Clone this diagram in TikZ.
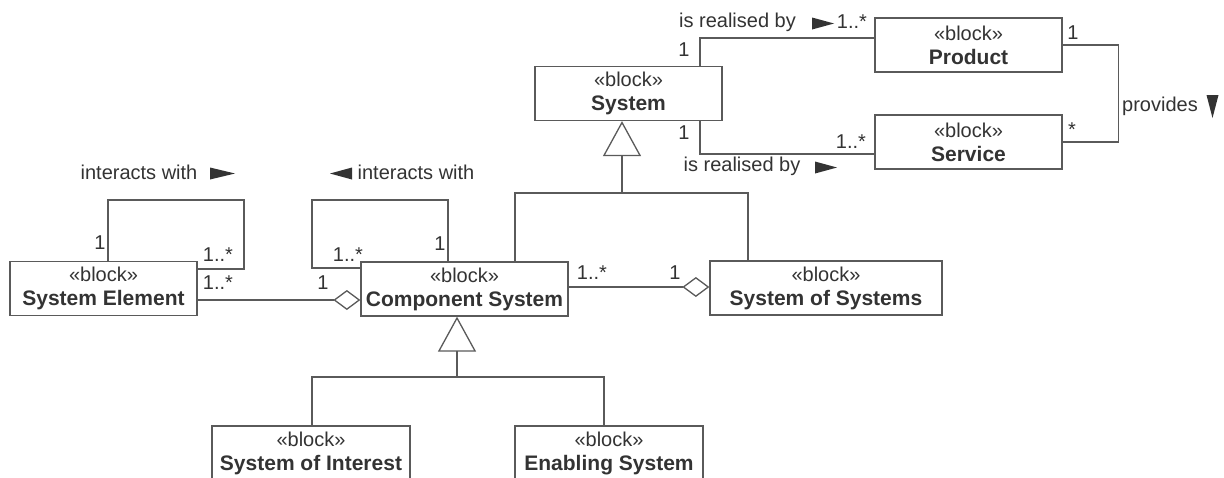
\documentclass[tikz,border=0pt]{standalone}
\usepackage{fontspec}
\setmainfont{Liberation Sans}
\usetikzlibrary{arrows.meta,calc}
\definecolor{ink}{HTML}{333333}
\definecolor{edge}{HTML}{5A5A5A}
\newcommand{\blockname}[1]{{\fontsize{21}{24}\selectfont\bfseries #1}}
\begin{document}
\begin{tikzpicture}[x=1pt,y=-1pt,
  blockbox/.style={draw=edge, line width=1.3pt, fill=white, text=ink, align=center,
    inner sep=0pt, minimum height=54pt, font=\fontsize{20}{24}\selectfont},
  conn/.style={draw=edge, line width=1.3pt},
  lbl/.style={text=ink, inner sep=0pt, font=\fontsize{20}{24}\selectfont},
  gen/.style={-{Triangle[open,length=35pt,width=38pt]}},
  agg/.style={-{Diamond[open,length=27pt,width=20pt]}},
  dirmark/.style={fill=ink}]
\useasboundingbox (0,0) rectangle (1224,477);
\clip (0,0) rectangle (1224,477);
\fill[white] (0,0) rectangle (1224,477);

% blocks
\node[blockbox, minimum width=187pt] (sys)  at (628.5,93.5) {«block»\\\blockname{System}};
\node[blockbox, minimum width=187pt] (prod) at (968.5,45)   {«block»\\\blockname{Product}};
\node[blockbox, minimum width=187pt] (serv) at (968.5,142)  {«block»\\\blockname{Service}};
\node[blockbox, minimum width=187pt] (se)   at (103.5,288.5) {«block»\\\blockname{System Element}};
\node[blockbox, minimum width=207pt] (cs)   at (464.5,289)  {«block»\\\blockname{Component System}};
\node[blockbox, minimum width=232pt] (sos)  at (826,288)    {«block»\\\blockname{System of Systems}};
\node[blockbox, minimum width=198pt] (soi)  at (311,453)    {«block»\\\blockname{System of Interest}};
\node[blockbox, minimum width=188pt] (es)   at (609,453)    {«block»\\\blockname{Enabling System}};

% System is realised by Product / Service
\draw[conn] ($(sys.north)+(71.5,0)$) |- ($(prod.west)+(0,-7)$);
\draw[conn] ($(sys.south)+(71.5,0)$) |- ($(serv.west)+(0,12)$);
% Product provides Service
\draw[conn] (prod.east) -- ++(56,0) |- (serv.east);

% generalisation of System
\coordinate (gs) at (622,193);
\coordinate (ga) at (515,193);
\coordinate (gb) at (748,193);
\draw[conn,gen] (gs) -- (gs |- sys.south);
\draw[conn] (cs.north -| ga) -- (ga) -- (gb) -- (sos.north -| gb);

% self associations
\coordinate (seL) at (108,200);
\coordinate (seR) at (244,269);
\draw[conn] (se.north -| seL) -- (seL) -| (seR) -- (se.east |- seR);
\coordinate (csL) at (312,268);
\coordinate (csR) at (448,200);
\draw[conn] (cs.west |- csL) -- (csL) |- (csR) -- (cs.north -| csR);

% aggregations
\coordinate (a1) at (0,300);
\draw[conn,agg] (se.east |- a1) -- (cs.west |- a1);
\coordinate (a2) at (0,287);
\draw[conn,agg] (cs.east |- a2) -- (sos.west |- a2);

% generalisation of Component System
\coordinate (gc) at (457,377);
\coordinate (gl) at (312,377);
\coordinate (gr) at (604,377);
\draw[conn,gen] (gc) -- (gc |- cs.south);
\draw[conn] (soi.north -| gl) -- (gl) -- (gr) -- (es.north -| gr);

% association names
\node[lbl] (r1) at (737.5,22) {is realised by};
\fill[dirmark] (812,17.5) -- (834,23.5) -- (812,29.5) -- cycle;
\node[lbl] (r2) at (742,166) {is realised by};
\fill[dirmark] (815,161.5) -- (837,167.5) -- (815,173.5) -- cycle;
\node[lbl] (pv) at (1160,106) {provides};
\fill[dirmark] (1206.5,95) -- (1218.5,95) -- (1212.5,118) -- cycle;
\node[lbl] (i1) at (139,172) {interacts with};
\fill[dirmark] (210,167.5) -- (235,173.5) -- (210,179.5) -- cycle;
\node[lbl] (i2) at (416,172) {interacts with};
\fill[dirmark] (352,167.5) -- (330,173.5) -- (352,179.5) -- cycle;

% multiplicities
\node[lbl] (m1)  at (852,22)   {1..*};
\node[lbl] (m2)  at (684,50)   {1};
\node[lbl] (m3)  at (684,133)  {1};
\node[lbl] (m4)  at (851,142)  {1..*};
\node[lbl] (m5)  at (1073,33)  {1};
\node[lbl] (m6)  at (1072,130) {*};
\node[lbl] (m7)  at (100,243)  {1};
\node[lbl] (m8)  at (218,255)  {1..*};
\node[lbl] (m9)  at (218,283)  {1..*};
\node[lbl] (m10) at (323,283)  {1};
\node[lbl] (m11) at (348,255)  {1..*};
\node[lbl] (m12) at (440,244)  {1};
\node[lbl] (m13) at (592,273)  {1..*};
\node[lbl] (m14) at (675,273)  {1};
\end{tikzpicture}
\end{document}
